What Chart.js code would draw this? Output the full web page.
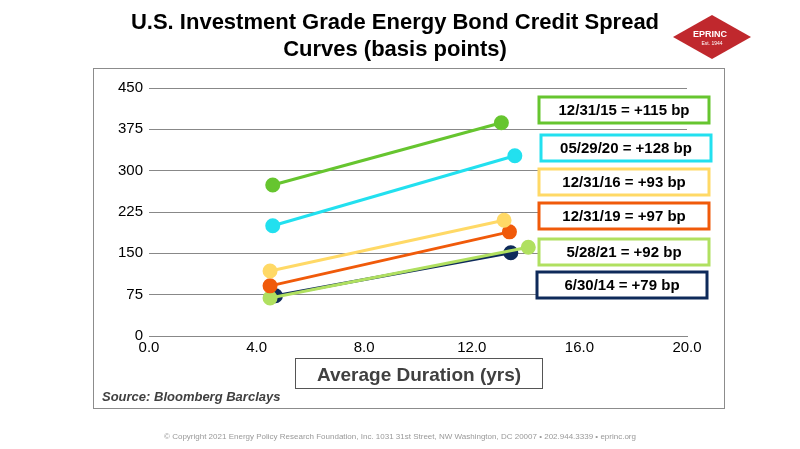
<!DOCTYPE html>
<html><head><meta charset="utf-8">
<script src="https://cdn.jsdelivr.net/npm/chart.js@4"></script>
<style>body{margin:0;background:#fff;width:800px;height:449px;overflow:hidden}#w{position:absolute;left:0;top:0;width:800px;height:449px}</style>
</head><body><div id="w"><canvas id="c" width="800" height="449"></canvas></div>
<script>
const seriesLabels = ["12/31/15 = +115 bp","05/29/20 = +128 bp","12/31/16 = +93 bp","12/31/19 = +97 bp","5/28/21 = +92 bp","6/30/14 = +79 bp"];
const seriesColors = ["#66c52f","#22e0ef","#ffd966","#f05a0a","#b0e060","#0e2a5a"];
const durations = [[4.6,13.1],[4.6,13.6],[4.5,13.2],[4.5,13.4],[4.5,14.1],[4.7,13.45]];
const spreads = [[274,387],[200,327],[118,210],[91,189],[69,161],[73,151]];
const yTicks = [0,75,150,225,300,375,450];
const boxY = [110,148,182,216,252,285];
const boxX = [539,541,539,539,539,537];

const deco = {id:'deco',
 beforeDraw(ch){const c=ch.ctx;c.save();c.fillStyle='#fff';c.fillRect(0,0,800,449);
  c.strokeStyle='#8c8c8c';c.lineWidth=1;c.strokeRect(93.5,68.5,631,340);
  c.fillStyle='#000';c.font='bold 22px "Liberation Sans"';c.textAlign='center';
  c.fillText('U.S. Investment Grade Energy Bond Credit Spread',395,29);
  c.fillText('Curves (basis points)',395,56);
  // logo
  c.fillStyle='#c0282d';c.beginPath();c.moveTo(673,37);c.lineTo(712,15);c.lineTo(751,37);c.lineTo(712,59);c.closePath();c.fill();
  c.fillStyle='#fff';c.font='bold 9px "Liberation Sans"';c.fillText('EPRINC',710,37);
  c.font='5px "Liberation Sans"';c.fillText('Est. 1944',712,45);
  // x title box
  c.strokeStyle='#555';c.strokeRect(295.5,358.5,247,30);
  c.fillStyle='#404040';c.font='bold 19px "Liberation Sans"';c.fillText('Average Duration (yrs)',419,381);
  c.textAlign='left';c.font='italic bold 13px "Liberation Sans"';c.fillStyle='#404040';
  c.fillText('Source: Bloomberg Barclays',102,401);
  c.textAlign='center';c.font='8px "Liberation Sans"';c.fillStyle='#999';
  c.fillText('© Copyright 2021 Energy Policy Research Foundation, Inc. 1031 31st Street, NW Washington, DC 20007 • 202.944.3339 • eprinc.org',400,439);
  c.restore();},
 afterDraw(ch){const c=ch.ctx;c.save();c.font='bold 15px "Liberation Sans"';c.textAlign='center';c.textBaseline='middle';
  seriesLabels.forEach((t,i)=>{const x=boxX[i],y=boxY[i],w=170,h=26;
   c.fillStyle='#fff';c.fillRect(x,y-h/2,w,h);c.strokeStyle=seriesColors[i];c.lineWidth=3;c.strokeRect(x,y-h/2,w,h);
   c.fillStyle='#000';c.fillText(t,x+w/2,y+1);});c.restore();}};

new Chart(document.getElementById('c'),{type:'scatter',
 data:{datasets:seriesLabels.map((l,i)=>({label:l,data:durations[i].map((d,j)=>({x:d,y:spreads[i][j]})),
  showLine:true,borderColor:seriesColors[i],backgroundColor:seriesColors[i],borderWidth:3,pointRadius:6,pointHoverRadius:6}))},
 options:{responsive:false,animation:false,events:[],
  layout:{padding:{left:93,right:113,top:88,bottom:83}},
  plugins:{legend:{display:false},tooltip:{enabled:false}},
  scales:{
   x:{type:'linear',min:0,max:20,ticks:{stepSize:4,callback:v=>v.toFixed(1),color:'#000',font:{size:15,family:'Liberation Sans'},maxRotation:0},
      grid:{display:false,drawTicks:false},border:{color:'#888',width:1},afterFit(s){s.height=30;}},
   y:{min:0,max:450,afterBuildTicks(s){s.ticks=yTicks.map(v=>({value:v}));},
      ticks:{color:'#000',font:{size:15,family:'Liberation Sans'},padding:6},
      grid:{color:'#888',drawTicks:false},border:{display:false},afterFit(s){s.width=56;}}}},
 plugins:[deco]});
</script></body></html>
